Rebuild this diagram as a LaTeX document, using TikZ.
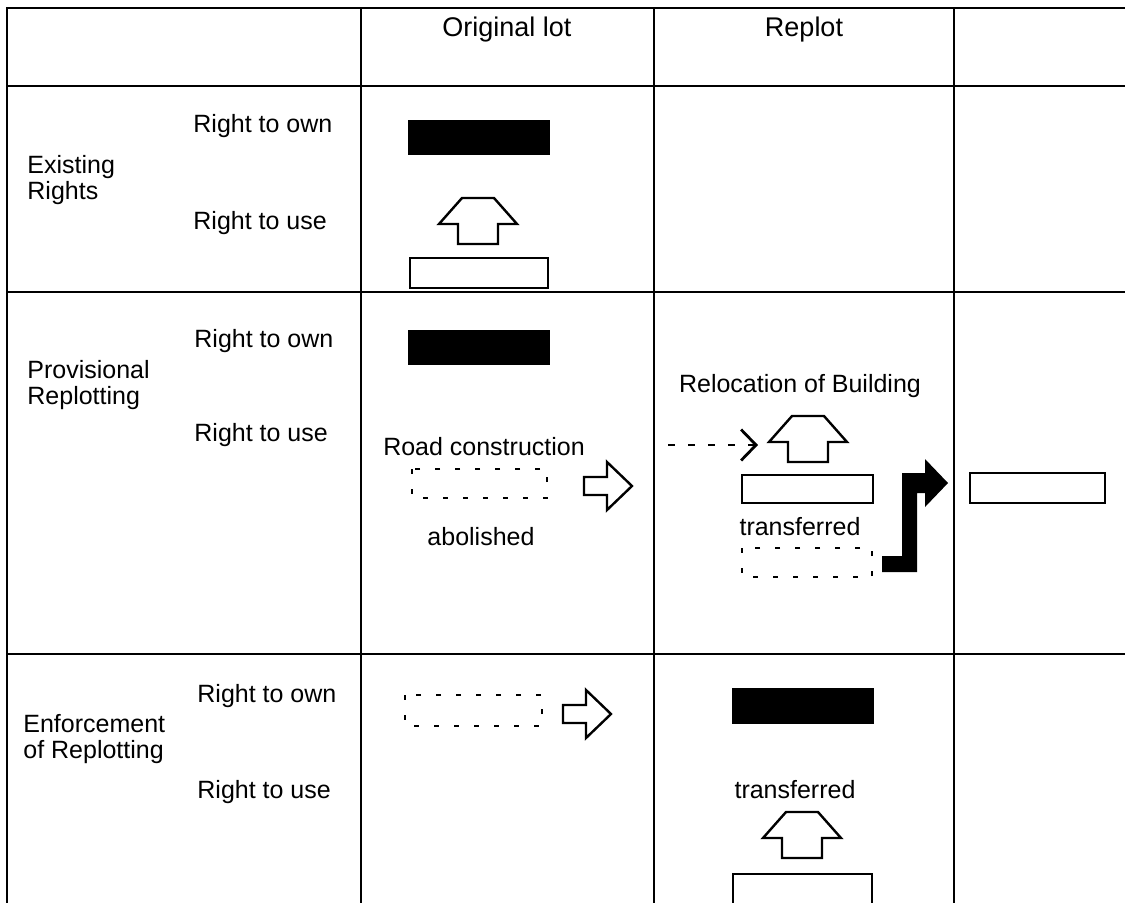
\documentclass[tikz,border=0pt]{standalone}
\usepackage{fontspec}
\setmainfont{Liberation Sans}
\usetikzlibrary{arrows.meta}
\begin{document}
\begin{tikzpicture}[x=0.5pt,y=-0.5pt,
  grid/.style={line width=1pt, line cap=rect},
  lbl/.style={font=\fontsize{12.5}{13}\selectfont, inner sep=0pt, anchor=west, align=left},
  txt/.style={font=\fontsize{12.5}{13}\selectfont, inner sep=0pt},
  hdr/.style={font=\fontsize{13.5}{14}\selectfont, inner sep=0pt},
  solidbar/.style={fill=black, draw=black, line width=0.8pt},
  openbar/.style={draw=black, line width=1.4pt, fill=white},
  gonebar/.style={draw=black, line width=1pt, dash pattern=on 2.5pt off 7.5pt},
  hollow/.style={draw=black, line width=1.2pt, line join=miter, fill=white},
  dashlink/.style={draw=black, line width=1pt, dash pattern=on 3.5pt off 6.5pt,
    -{Straight Barb[length=7.5pt,width=15.5pt,line width=1.4pt]}},
  uparrow/.pic={\draw[hollow] (-16,0) -- (16,0) -- (39,26) -- (20,26) -- (20,46) -- (-20,46) -- (-20,26) -- (-39,26) -- cycle;},
  rightarrow/.pic={\draw[hollow] (0,0) -- (-25,-24) -- (-25,-9) -- (-48,-9) -- (-48,9) -- (-25,9) -- (-25,24) -- cycle;}
]
\useasboundingbox (0,0) rectangle (1125,902);
\clip (0,0) rectangle (1125,902);

% grid
\draw[grid] (7,905) -- (7,8) -- (1125,8);
\draw[grid] (7,86) -- (1125,86);
\draw[grid] (7,292) -- (1125,292);
\draw[grid] (7,654) -- (1125,654);
\draw[grid] (361,8) -- (361,905);
\draw[grid] (654,8) -- (654,905);
\draw[grid] (954,8) -- (954,905);

% headers
\node[hdr] (hOrig) at (507,30) {Original lot};
\node[hdr] (hRep) at (804,30) {Replot};

% row labels
\node[lbl] (r1) at (27,180) {Existing\\Rights};
\node[lbl] (r2) at (27,385) {Provisional\\Replotting};
\node[lbl] (r3) at (23,739) {Enforcement\\of Replotting};

\node[lbl] (own1) at (193,126) {Right to own};
\node[lbl] (use1) at (193,223) {Right to use};
\node[lbl] (own2) at (194,341) {Right to own};
\node[lbl] (use2) at (194,435) {Right to use};
\node[lbl] (own3) at (197,696) {Right to own};
\node[lbl] (use3) at (197,792) {Right to use};

% row 1
\draw[solidbar] (409,121) rectangle (549,154);
\pic at (478,198) {uparrow};
\draw[openbar] (410,258) rectangle (548,288);

% row 2, original lot
\draw[solidbar] (409,331) rectangle (549,364);
\node[txt] (road) at (484,447) {Road construction};
\draw[gonebar] (412,469) rectangle (547,498);
\node[txt] (abol) at (481,537) {abolished};
\pic at (632,486) {rightarrow};

% row 2, replot
\node[txt] (reloc) at (800,386) {Relocation of Building};
\coordinate (dstart) at (668,445);
\coordinate (dend) at (758,445);
\draw[dashlink] (dstart) -- (dend);
\pic at (808,416) {uparrow};
\draw[openbar] (742,475) rectangle (873,503);
\node[txt] (trans2) at (800,527) {transferred};
\draw[gonebar] (742,548) rectangle (872,577);
\fill[black] (882,556) -- (902,556) -- (902,473) -- (925,473) -- (925,459) -- (948,483)
  -- (925,507) -- (925,493) -- (917,493) -- (917,572) -- (882,572) -- cycle;

% row 2, right column
\draw[openbar] (970,473) rectangle (1105,503);

% row 3
\draw[gonebar] (405,695) rectangle (542,726);
\pic at (611,714) {rightarrow};
\draw[solidbar] (733,689) rectangle (873,723);
\node[txt] (trans3) at (795,790) {transferred};
\pic at (802,812) {uparrow};
\draw[openbar] (733,910) -- (733,874) -- (872,874) -- (872,910);
\end{tikzpicture}
\end{document}
